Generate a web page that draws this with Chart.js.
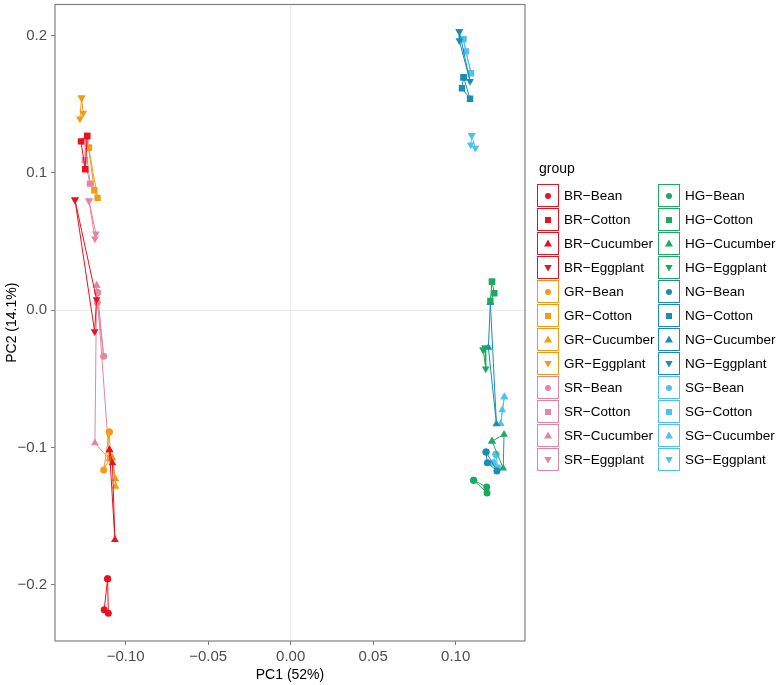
<!DOCTYPE html>
<html>
<head>
<meta charset="UTF-8">
<title>PCA</title>
<script src="https://cdn.jsdelivr.net/npm/chart.js@4.4.0/dist/chart.umd.min.js"></script>
<style>
    body { margin: 0; background: #fff; font-family: "Liberation Sans", Arial, sans-serif; }
    .wrap { position: relative; width: 778px; height: 685px; }
    #legend { position: absolute; left: 0; top: 0; width: 778px; height: 685px; pointer-events: none; }
    .lg-title { position: absolute; left: 539px; top: 160px; font-size: 14px; line-height: 17px; color: #000; }
    .key { position: absolute; width: 22px; height: 23px; box-sizing: border-box; border: 1px solid; background: #fff; }
    .key i { position: absolute; left: 50%; top: 50%; width: 6px; height: 6px; margin: -3px 0 0 -3px; }
    .key i.circle { border-radius: 50%; }
    .key i.tri { clip-path: polygon(50% 0, 100% 100%, 0 100%); width: 8px; height: 7px; margin: -4px 0 0 -4px; }
    .key i.tridown { clip-path: polygon(0 0, 100% 0, 50% 100%); width: 8px; height: 7px; margin: -3px 0 0 -4px; }
    .lab { position: absolute; font-size: 13.5px; line-height: 23px; color: #000; white-space: nowrap; }
</style>
</head>
<body>
<div class="wrap">
    <canvas id="pca" width="778" height="685"></canvas>
    <div id="legend"></div>
</div>
<script>
// groups and crops
const groups = ['BR', 'GR', 'SR', 'HG', 'NG', 'SG'];
const crops = ['Bean', 'Cotton', 'Cucumber', 'Eggplant'];
const groupColors = ['#E8131F', '#F49A16', '#E5859F', '#1DAA5E', '#1B8DB4', '#4EC1EE'];

// PC1 / PC2 scores, one row per crop (Bean, Cotton, Cucumber, Eggplant), 3 replicates each
const BR_x = [[-0.1109, -0.1130, -0.1105], [-0.1233, -0.1271, -0.1245], [-0.1098, -0.1080, -0.1065], [-0.1307, -0.1176, -0.1188]];
const BR_y = [[-0.1956, -0.2183, -0.2208], [0.1269, 0.1230, 0.1027], [-0.1019, -0.1113, -0.1672], [0.0804, 0.0078, -0.0155]];
const GR_x = [[-0.1099, -0.1133, -0.1092], [-0.1224, -0.1190, -0.1170], [-0.1081, -0.1061, -0.1061], [-0.1267, -0.1257, -0.1277]];
const GR_y = [[-0.0888, -0.1164, -0.1070], [0.1184, 0.0874, 0.0818], [-0.1077, -0.1229, -0.1285], [0.1547, 0.1436, 0.1394]];
const SR_x = [[-0.1170, -0.1172, -0.1133], [-0.1245, -0.1247, -0.1216], [-0.1176, -0.1186, -0.1099], [-0.1222, -0.1180, -0.1186]];
const SR_y = [[0.0129, 0.0056, -0.0336], [0.1230, 0.1092, 0.0922], [0.0179, -0.0968, -0.1084], [0.0797, 0.0557, 0.0521]];
const HG_x = [[0.1109, 0.1188, 0.1190], [0.1220, 0.1234, 0.1210], [0.1220, 0.1293, 0.1288], [0.1167, 0.1178, 0.1182]];
const HG_y = [[-0.1239, -0.1288, -0.1331], [0.0208, 0.0123, 0.0068], [-0.0954, -0.0905, -0.1152], [-0.0288, -0.0271, -0.0426]];
const NG_x = [[0.1184, 0.1192, 0.1250], [0.1048, 0.1038, 0.1087], [0.1210, 0.1198, 0.1247], [0.1022, 0.1022, 0.1087]];
const NG_y = [[-0.1033, -0.1111, -0.1171], [0.1697, 0.1617, 0.1540], [0.0056, -0.0271, -0.0830], [0.2031, 0.1964, 0.1668]];
const SG_x = [[0.1244, 0.1228, 0.1255], [0.1046, 0.1061, 0.1093], [0.1295, 0.1282, 0.1273], [0.1097, 0.1091, 0.1119]];
const SG_y = [[-0.1050, -0.1111, -0.1147], [0.1975, 0.1886, 0.1726], [-0.0632, -0.0728, -0.0828], [0.1274, 0.1206, 0.1182]];

// axis ticks
const xTicks = [-0.10, -0.05, 0.00, 0.05, 0.10];
const yTicks = [-0.2, -0.1, 0.0, 0.1, 0.2];

const scores = {
    BR: [BR_x, BR_y], GR: [GR_x, GR_y], SR: [SR_x, SR_y],
    HG: [HG_x, HG_y], NG: [NG_x, NG_y], SG: [SG_x, SG_y]
};

const shapes = [
    { style: 'circle', radius: 3.5, rot: 0 },
    { style: 'rect', radius: 4.5, rot: 0 },
    { style: 'triangle', radius: 4.5, rot: 0 },
    { style: 'triangle', radius: 4.5, rot: 180 }
];

function minus(s) { return s.replace('-', '\u2212'); }

const datasets = [];
groups.forEach((g, gi) => {
    const [xs, ys] = scores[g];
    crops.forEach((c, ci) => {
        const pts = xs[ci].map((x, k) => ({ x: x, y: ys[ci][k] }));
        pts.push(pts[0]); // close the polygon
        datasets.push({
            label: g + '-' + c,
            data: pts,
            showLine: true,
            borderColor: groupColors[gi],
            backgroundColor: groupColors[gi],
            borderWidth: 1,
            pointStyle: shapes[ci].style,
            pointRadius: shapes[ci].radius,
            pointRotation: shapes[ci].rot,
            pointBorderWidth: 0,
            pointBackgroundColor: groupColors[gi]
        });
    });
});

// panel border
const boxPlugin = {
    id: 'panelBox',
    afterDraw(chart) {
        const a = chart.chartArea;
        const ctx = chart.ctx;
        ctx.save();
        ctx.strokeStyle = '#808080';
        ctx.lineWidth = 1.2;
        ctx.strokeRect(a.left, a.top, a.right - a.left, a.bottom - a.top);
        ctx.restore();
    }
};

const tickFont = { family: '"Liberation Sans", Arial, sans-serif', size: 15 };
const titleFont = { family: '"Liberation Sans", Arial, sans-serif', size: 14 };

new Chart(document.getElementById('pca'), {
    type: 'scatter',
    data: { datasets: datasets },
    options: {
        responsive: false,
        animation: false,
        layout: { padding: { left: 0, right: 253, top: 2, bottom: 0 } },
        plugins: { legend: { display: false }, tooltip: { enabled: false } },
        scales: {
            x: {
                type: 'linear',
                min: -0.1428, max: 0.142,
                afterBuildTicks: axis => { axis.ticks = xTicks.map(v => ({ value: v })); },
                afterFit: axis => { axis.height = 44; axis.paddingLeft = 0; axis.paddingRight = 0; },
                border: { display: false },
                grid: {
                    color: ctx => (ctx.tick && ctx.tick.value === 0 ? '#ebebeb' : 'rgba(0,0,0,0)'),
                    tickColor: '#808080',
                    tickLength: 4
                },
                ticks: {
                    color: '#4d4d4d', font: tickFont, padding: 3, maxRotation: 0,
                    callback: v => minus(v.toFixed(2))
                },
                title: { display: true, text: 'PC1 (52%)', color: '#000', font: titleFont, padding: { top: 0, bottom: 1 } }
            },
            y: {
                type: 'linear',
                min: -0.241, max: 0.2227,
                afterBuildTicks: axis => { axis.ticks = yTicks.map(v => ({ value: v })); },
                afterFit: axis => { axis.width = 55; axis.paddingTop = 0; axis.paddingBottom = 0; },
                border: { display: false },
                grid: {
                    color: ctx => (ctx.tick && ctx.tick.value === 0 ? '#ebebeb' : 'rgba(0,0,0,0)'),
                    tickColor: '#808080',
                    tickLength: 4
                },
                ticks: {
                    color: '#4d4d4d', font: tickFont, padding: 4,
                    callback: v => minus(v.toFixed(1))
                },
                title: { display: true, text: 'PC2 (14.1%)', color: '#000', font: titleFont, padding: { top: 4, bottom: 0 } }
            }
        }
    },
    plugins: [boxPlugin]
});

// legend: two columns of 12 keys
const legend = document.getElementById('legend');
const t = document.createElement('div');
t.className = 'lg-title';
t.textContent = 'group';
legend.appendChild(t);
const markerClass = ['circle', 'square', 'tri', 'tridown'];
groups.forEach((g, gi) => {
    crops.forEach((c, ci) => {
        const idx = gi * 4 + ci;
        const col = Math.floor(idx / 12);
        const row = idx % 12;
        const left = col === 0 ? 537 : 658;
        const top = 184 + row * 24;
        const key = document.createElement('div');
        key.className = 'key';
        key.style.left = left + 'px';
        key.style.top = top + 'px';
        key.style.borderColor = groupColors[gi];
        const m = document.createElement('i');
        m.className = markerClass[ci];
        m.style.background = groupColors[gi];
        key.appendChild(m);
        legend.appendChild(key);
        const lab = document.createElement('div');
        lab.className = 'lab';
        lab.style.left = (left + 27) + 'px';
        lab.style.top = top + 'px';
        lab.textContent = g + '\u2212' + c;
        legend.appendChild(lab);
    });
});
</script>
</body>
</html>
